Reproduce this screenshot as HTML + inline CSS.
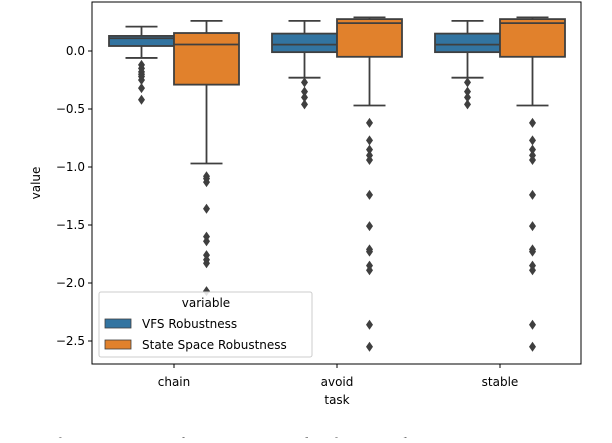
<!DOCTYPE html>
<html><head><meta charset="utf-8"><style>
body{margin:0;background:#fff;width:612px;height:438px;overflow:hidden}
svg text{font-family:"DejaVu Sans","Liberation Sans",sans-serif;fill:#000}
</style></head><body>
<svg id="chart" width="612" height="438" xmlns="http://www.w3.org/2000/svg">
<g id="marks"></g>
<g id="axes"></g>
</svg>
<script>
const categories = ["chain","avoid","stable"];
const seriesNames = ["VFS Robustness","State Space Robustness"];
// [whiskerLow, q1, median, q3, whiskerHigh]
const vfsStats = [[-0.06,0.043,0.11,0.13,0.21],[-0.23,-0.01,0.055,0.15,0.26],[-0.23,-0.01,0.055,0.15,0.26]];
const ssStats = [[-0.97,-0.29,0.056,0.155,0.26],[-0.47,-0.05,0.24,0.275,0.29],[-0.47,-0.05,0.24,0.275,0.29]];
const vfsOutliers = [[-0.12,-0.15,-0.18,-0.2,-0.22,-0.25,-0.32,-0.42],[-0.27,-0.35,-0.4,-0.46],[-0.27,-0.35,-0.4,-0.46]];
const ssOutliers = [[-1.08,-1.1,-1.13,-1.36,-1.6,-1.64,-1.76,-1.8,-1.83,-2.07],[-0.62,-0.77,-0.85,-0.9,-0.94,-1.24,-1.51,-1.71,-1.73,-1.85,-1.89,-2.36,-2.55],[-0.62,-0.77,-0.85,-0.9,-0.94,-1.24,-1.51,-1.71,-1.73,-1.85,-1.89,-2.36,-2.55]];
const yTicks = [0.0,-0.5,-1.0,-1.5,-2.0,-2.5];
const yTickLabels = ["0.0","\u22120.5","\u22121.0","\u22121.5","\u22122.0","\u22122.5"];
const colors = ["#3274a1","#e1812c"];

const L=92,R=581,T=2,B=364;
const y = v => 51 - v*116;
const x = i => 174 + i*163;
const NS="http://www.w3.org/2000/svg";
const marks=document.getElementById('marks'), axes=document.getElementById('axes');
function mk(tag,attrs,parent){const e=document.createElementNS(NS,tag);for(const k in attrs)e.setAttribute(k,attrs[k]);parent.appendChild(e);return e;}
const stroke="#3f3f3f";
[vfsStats,ssStats].forEach((stats,s)=>{
  const outs = s===0?vfsOutliers:ssOutliers;
  stats.forEach((st,i)=>{
    const x0 = x(i) - 65 + s*65, w=65, cx=x0+w/2;
    const g=mk('g',{},marks);
    
    
    mk('line',{x1:cx,x2:cx,y1:y(st[3]),y2:y(st[4]),stroke:stroke,'stroke-width':1.8},g);
    mk('line',{x1:cx,x2:cx,y1:y(st[1]),y2:y(st[0]),stroke:stroke,'stroke-width':1.8},g);
    mk('line',{x1:cx-16,x2:cx+16,y1:y(st[4]),y2:y(st[4]),stroke:stroke,'stroke-width':1.8},g);
    mk('line',{x1:cx-16,x2:cx+16,y1:y(st[0]),y2:y(st[0]),stroke:stroke,'stroke-width':1.8},g);
    mk('rect',{x:x0,y:y(st[3]),width:w,height:y(st[1])-y(st[3]),fill:colors[s],stroke:stroke,'stroke-width':1.8},g);
    mk('line',{x1:x0,x2:x0+w,y1:y(st[2]),y2:y(st[2]),stroke:stroke,'stroke-width':1.8},g);
    outs[i].forEach(v=>{
      const d=mk('path',{d:`M${cx} ${y(v)-5}L${cx+3.5} ${y(v)}L${cx} ${y(v)+5}L${cx-3.5} ${y(v)}Z`,fill:stroke},g);
      
      
    });
  });
});
const fr=mk('rect',{x:L,y:T,width:R-L,height:B-T,fill:'none',stroke:'#000','stroke-width':1},axes);


yTicks.forEach((v,k)=>{
  mk('line',{x1:L-4,x2:L,y1:y(v),y2:y(v),stroke:'#000'},axes);
  const t=mk('text',{x:L-7,y:y(v)+4,'text-anchor':'end','font-size':12},axes);
  t.textContent=yTickLabels[k];
  
  
});
categories.forEach((c,i)=>{
  mk('line',{x1:x(i),x2:x(i),y1:B,y2:B+4,stroke:'#000'},axes);
  const t=mk('text',{x:x(i),y:386,'text-anchor':'middle','font-size':12},axes);
  t.textContent=c;
  
  
});
</script>
<svg style="position:absolute;left:0;top:0" width="612" height="438" xmlns="http://www.w3.org/2000/svg">
<text x="337" y="404" text-anchor="middle" font-size="12">task</text>
<text transform="translate(40,183) rotate(-90)" text-anchor="middle" font-size="12">value</text>
<g>
<rect x="99" y="292" width="213" height="65" rx="2" fill="#fff" fill-opacity="0.85" stroke="#ccc"/>
<text x="206" y="307" text-anchor="middle" font-size="12">variable</text>
<g><rect x="105" y="319" width="26" height="9" fill="#3274a1" stroke="#3f3f3f" stroke-width="0.8"/><text x="142" y="328" font-size="12">VFS Robustness</text></g>
<g><rect x="105" y="340" width="26" height="9" fill="#e1812c" stroke="#3f3f3f" stroke-width="0.8"/><text x="142" y="349" font-size="12">State Space Robustness</text></g>
</g>
<text x="0" y="449" font-size="17" style="fill:#777;font-family:'Liberation Serif',serif">Fig. 4: The variations in robustness measured with 100 random STL</text>
</svg>
</body></html>
